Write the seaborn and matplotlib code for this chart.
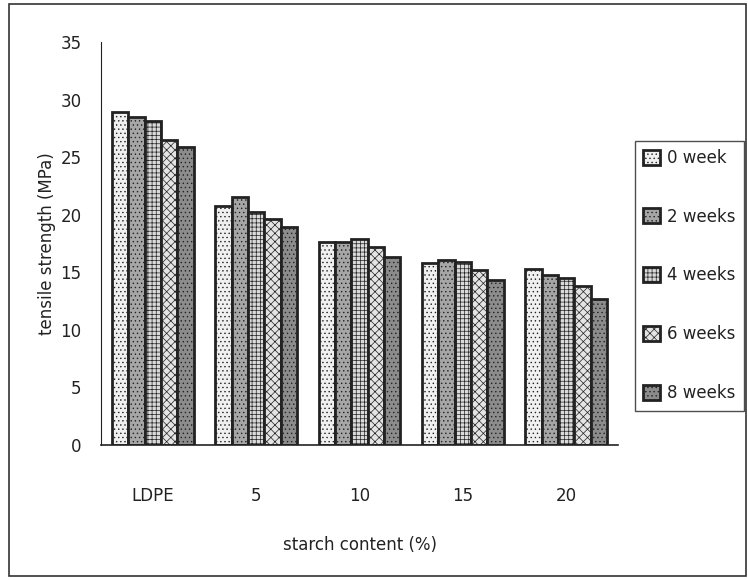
import pandas as pd
import matplotlib.pyplot as plt
import matplotlib.patches as mpatches
import seaborn as sns

# values
starch = ['LDPE', '5', '10', '15', '20']
weeks = ['0 week', '2 weeks', '4 weeks', '6 weeks', '8 weeks']
week0 = [28.9, 20.8, 17.6, 15.8, 15.3]
week2 = [28.5, 21.5, 17.6, 16.1, 14.8]
week4 = [28.1, 20.2, 17.9, 15.9, 14.5]
week6 = [26.5, 19.6, 17.2, 15.2, 13.8]
week8 = [25.9, 18.9, 16.3, 14.3, 12.7]

series = [week0, week2, week4, week6, week8]
rows = []
for w, vals in zip(weeks, series):
    for s, v in zip(starch, vals):
        rows.append({'starch': s, 'week': w, 'strength': v})
df = pd.DataFrame(rows)

sns.set_style('white')
plt.rcParams['font.family'] = ['DejaVu Sans']
plt.rcParams['hatch.linewidth'] = 0.5

ink = '#222222'
fills = ['#f0f0f0', '#a6a6a6', '#dadada', '#e4e4e4', '#8c8c8c']
hatches = ['....', '....', '++++', 'xxxx', '....']

fig = plt.figure(figsize=(7.48, 5.8), dpi=100)
ax = fig.add_axes([101 / 748, 1 - 445 / 580, 517 / 748, 403 / 580])

sns.barplot(data=df, x='starch', y='strength', hue='week', order=starch,
            hue_order=weeks, palette=fills, width=0.79, edgecolor=ink,
            linewidth=2, saturation=1, ax=ax, legend=False)

for cont, h in zip(ax.containers, hatches):
    for bar in cont:
        bar.set_hatch(h)

ax.set_ylim(0, 35)
ax.set_xlim(-0.5, 4.5)
ax.set_yticks(range(0, 36, 5))
ax.set_xticks([x - 0.5 for x in range(6)])
ax.set_xticklabels([''] * 6)
for i, s in enumerate(starch):
    ax.text(i, -4.4, s, ha='center', va='center', fontsize=12, color=ink)

ax.tick_params(axis='x', direction='out', length=6, width=1.2, color=ink)
ax.tick_params(axis='y', direction='out', length=5, width=1.0, color=ink,
               labelsize=12, labelcolor=ink, pad=9)
sns.despine(ax=ax, top=True, right=True)
ax.spines['left'].set_color(ink)
ax.spines['bottom'].set_color(ink)
ax.spines['bottom'].set_linewidth(1.2)

ax.set_ylabel('tensile strength (MPa)', fontsize=12, color=ink)
ax.yaxis.set_label_coords(-0.087, 0.5)
ax.set_xlabel('')
fig.text(360 / 748, 1 - 545 / 580, 'starch content (%)', ha='center', va='center',
         fontsize=12, color=ink)

handles = [mpatches.Patch(facecolor=f, edgecolor=ink, hatch=h, linewidth=2)
           for f, h in zip(fills, hatches)]
leg = fig.legend(handles, weeks, loc='center',
                 bbox_to_anchor=(689.5 / 748, 1 - 275.5 / 580), fontsize=12,
                 frameon=True, fancybox=False, edgecolor=ink,
                 labelspacing=2.45, handlelength=1.0, handleheight=1.0,
                 handletextpad=0.45, borderpad=0.5, borderaxespad=0,
                 labelcolor=ink)
leg.get_frame().set_linewidth(1.0)

fig.patches.append(mpatches.Rectangle((9 / 748, 4 / 580), 737 / 748, 572 / 580,
                                      transform=fig.transFigure, fill=False,
                                      edgecolor='#333333', linewidth=1.2))

fig.savefig('out.png', dpi=100)
